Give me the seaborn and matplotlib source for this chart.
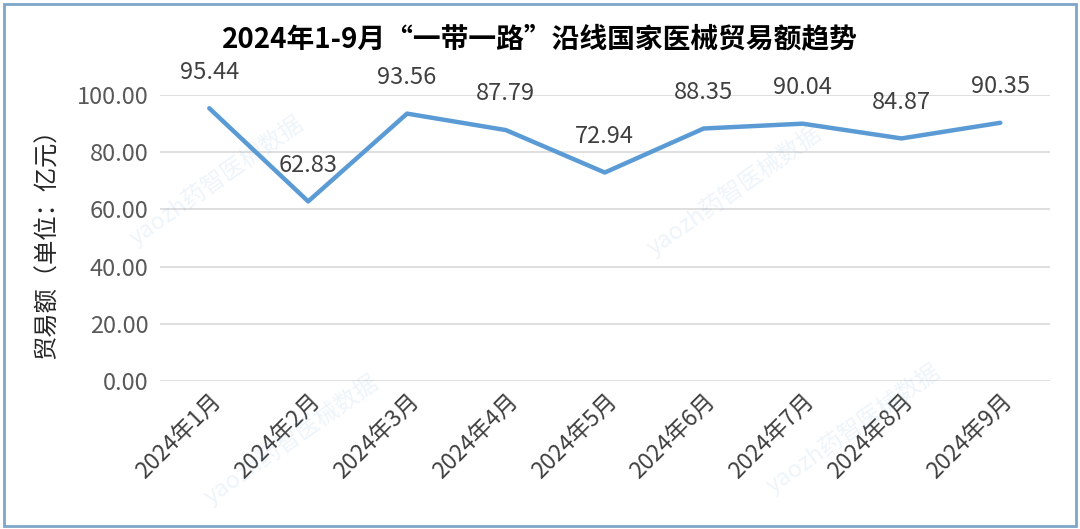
import pandas as pd
import matplotlib.pyplot as plt
import seaborn as sns
from matplotlib.patches import Rectangle

months = ["2024年1月", "2024年2月", "2024年3月", "2024年4月", "2024年5月",
          "2024年6月", "2024年7月", "2024年8月", "2024年9月"]
trade = [95.44, 62.83, 93.56, 87.79, 72.94, 88.35, 90.04, 84.87, 90.35]

df = pd.DataFrame({"month": months, "trade": trade})

sns.set_theme(style="white")
plt.rcParams["font.family"] = ["Noto Sans CJK SC", "DejaVu Sans"]

fig = plt.figure(figsize=(10.8, 5.29), dpi=100)
ax = fig.add_axes([0.148, 0.280, 0.824, 0.540])

sns.lineplot(data=df, x="month", y="trade", ax=ax, color="#5B9BD5",
             linewidth=3.2, sort=False)

# data labels
for i, v in enumerate(trade):
    ax.annotate(f"{v:.2f}", (i, v), xytext=(0, 26), textcoords="offset points",
                ha="center", va="center", fontsize=17, color="#404040")

ax.set_xlim(-0.5, len(months) - 0.5)
ax.set_ylim(0, 100)
ax.set_yticks(range(0, 101, 20))
ax.set_yticklabels([f"{t:.2f}" for t in range(0, 101, 20)])
ax.grid(axis="y", color="#D9D9D9", linewidth=1.2)
ax.set_axisbelow(True)
for s in ax.spines.values():
    s.set_visible(False)
ax.tick_params(axis="y", labelsize=17, labelcolor="#595959", pad=8, length=0)
ax.tick_params(axis="x", labelsize=16.5, labelcolor="#404040", pad=6, length=0)
plt.setp(ax.get_xticklabels(), rotation=45, ha="right", rotation_mode="anchor")
ax.set_xlabel("")
ax.set_ylabel("贸易额（单位：亿元）", fontsize=17.5, color="#262626", labelpad=12)

fig.text(0.5, 0.924, "2024年1-9月“一带一路”沿线国家医械贸易额趋势",
         ha="center", va="center", fontsize=20, fontweight="bold", color="#000000")

# faint watermarks
for (x, y) in [(0.20, 0.66), (0.68, 0.64), (0.27, 0.17), (0.79, 0.19)]:
    fig.text(x, y, "yaozh药智医械数据", fontsize=17, color="#5B9BD5", alpha=0.10,
             rotation=35, ha="center", va="center")

# border
fig.patches.append(Rectangle((0.004, 0.006), 0.992, 0.986, transform=fig.transFigure,
                             fill=False, edgecolor="#7EA6C8", linewidth=2))

fig.savefig("out.png", dpi=100)
